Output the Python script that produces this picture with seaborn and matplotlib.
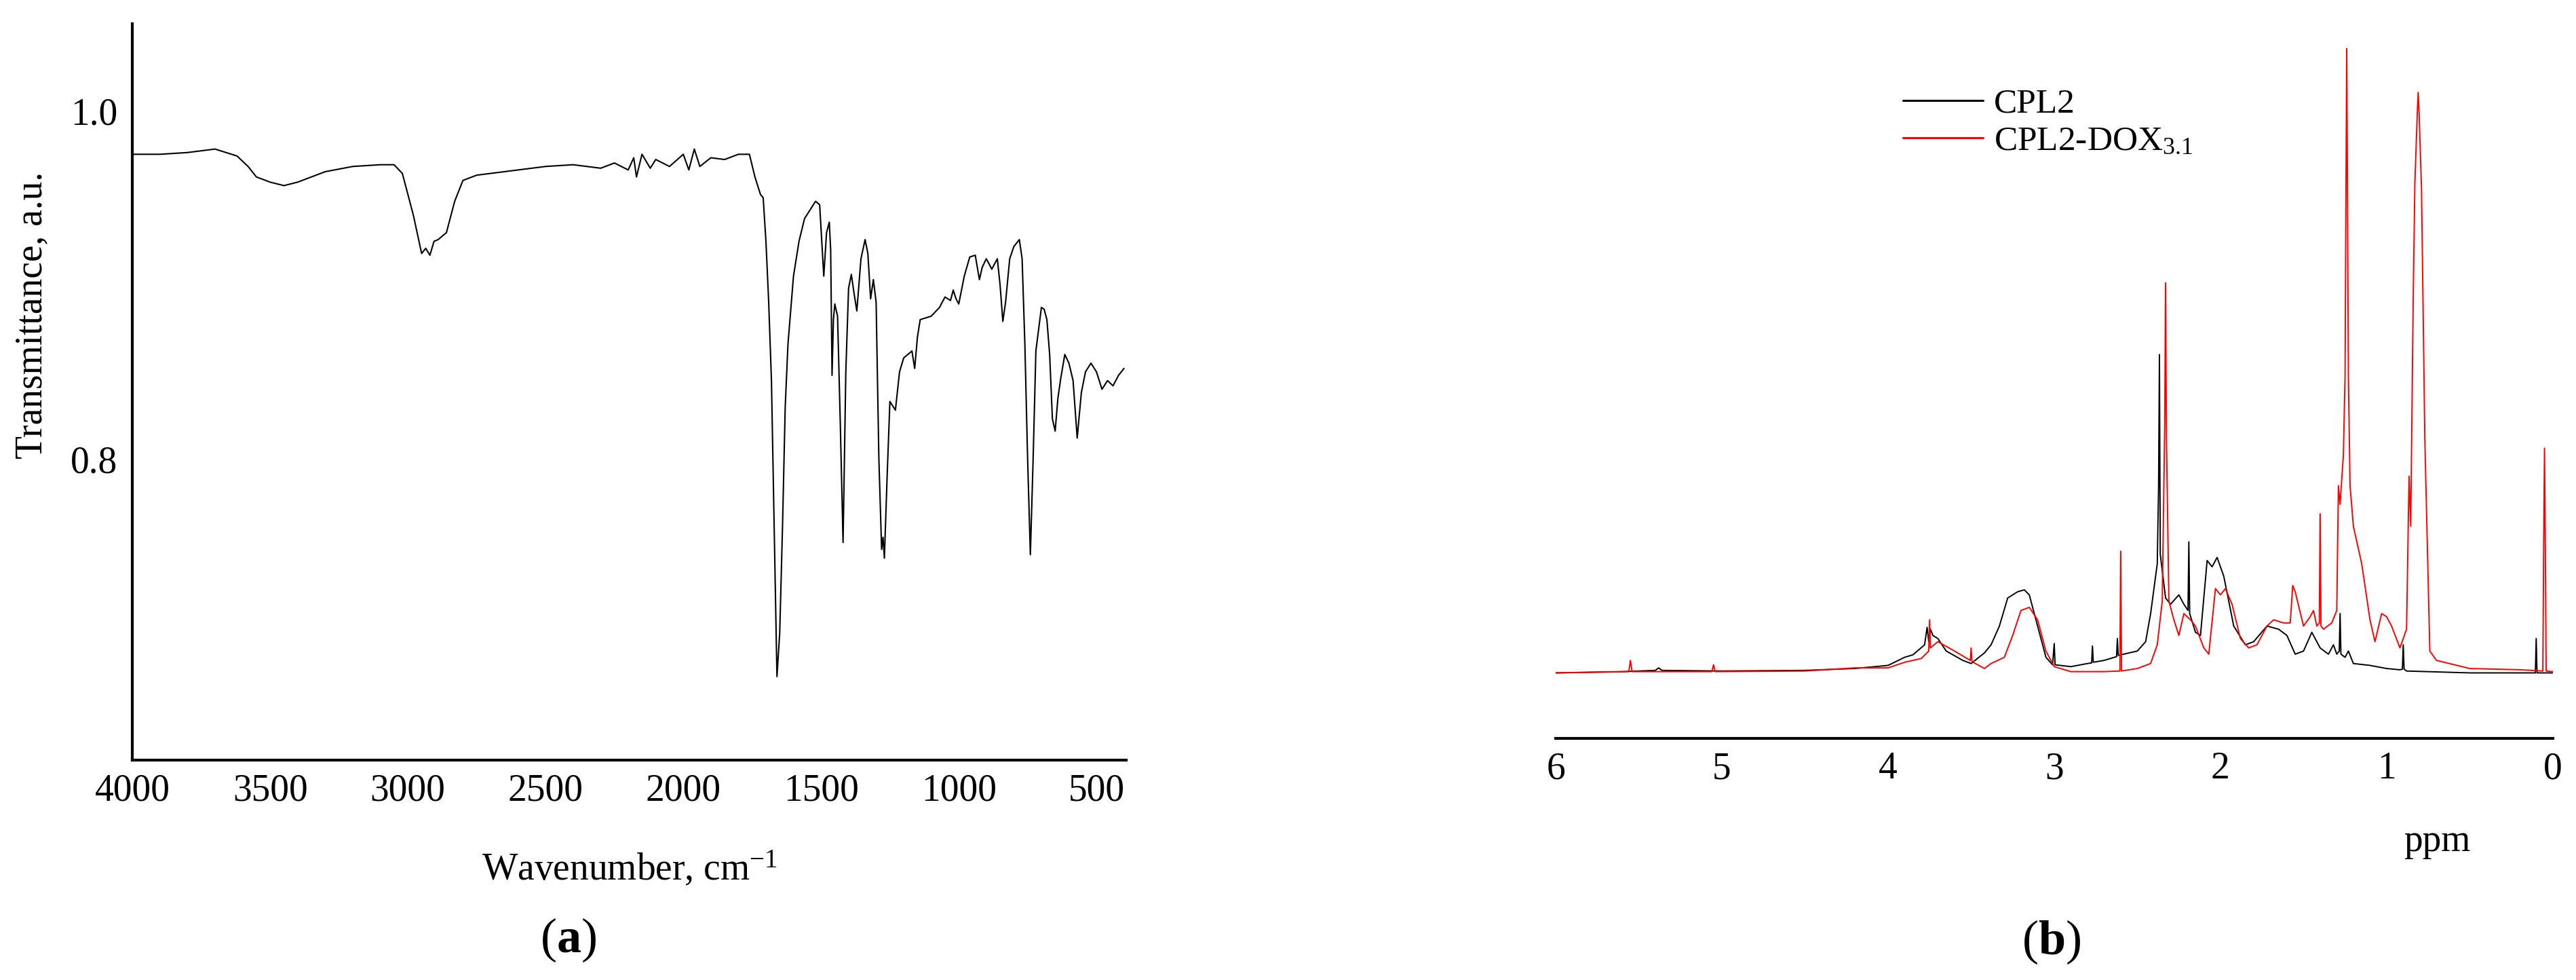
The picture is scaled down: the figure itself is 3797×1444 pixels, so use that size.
import numpy as np
import pandas as pd
import seaborn as sns
import matplotlib.pyplot as plt

# (a) FTIR spectrum
wavenumber = [4000, 3900, 3800, 3700, 3620, 3580, 3550, 3500, 3450, 3400,
              3300, 3200, 3100, 3050, 3020, 2980, 2950, 2935, 2920, 2905,
              2890, 2860, 2830, 2800, 2750, 2700, 2600, 2500, 2400, 2300,
              2250, 2200, 2180, 2170, 2150, 2120, 2100, 2050, 2000, 1980,
              1960, 1940, 1900, 1850, 1800, 1760, 1740, 1720, 1710, 1700,
              1690, 1680, 1670, 1660, 1650, 1640, 1630, 1620, 1600, 1580,
              1560, 1520, 1505, 1490, 1480, 1470, 1465, 1460, 1455, 1450,
              1440, 1430, 1420, 1410, 1400, 1390, 1380, 1370, 1355, 1340,
              1330, 1320, 1310, 1300, 1290, 1280, 1275, 1270, 1260, 1250,
              1230, 1215, 1200, 1170, 1160, 1150, 1140, 1100, 1070, 1050,
              1030, 1020, 1010, 1000, 980, 960, 940, 925, 915, 900,
              880, 860, 850, 840, 830, 815, 800, 780, 770, 760,
              750, 740, 730, 720, 700, 690, 680, 670, 660, 650,
              640, 630, 615, 600, 585, 570, 555, 540, 520, 500,
              480, 460, 440, 420, 400]
transmittance = [0.975, 0.975, 0.976, 0.978, 0.974, 0.968, 0.962, 0.959, 0.957, 0.959,
                 0.965, 0.968, 0.969, 0.969, 0.964, 0.940, 0.918, 0.921, 0.917, 0.925,
                 0.926, 0.930, 0.948, 0.960, 0.963, 0.964, 0.966, 0.968, 0.969, 0.967,
                 0.970, 0.966, 0.973, 0.962, 0.975, 0.967, 0.972, 0.968, 0.975, 0.966,
                 0.978, 0.968, 0.973, 0.972, 0.975, 0.975, 0.962, 0.952, 0.950, 0.925,
                 0.890, 0.845, 0.760, 0.675, 0.700, 0.760, 0.830, 0.866, 0.905, 0.925,
                 0.938, 0.948, 0.946, 0.905, 0.930, 0.936, 0.920, 0.848, 0.880, 0.889,
                 0.882, 0.820, 0.752, 0.850, 0.898, 0.906, 0.895, 0.885, 0.915, 0.926,
                 0.918, 0.892, 0.903, 0.890, 0.800, 0.748, 0.755, 0.743, 0.790, 0.833,
                 0.828, 0.850, 0.858, 0.862, 0.852, 0.870, 0.880, 0.882, 0.887, 0.893,
                 0.891, 0.897, 0.892, 0.889, 0.905, 0.916, 0.917, 0.903, 0.910, 0.915,
                 0.909, 0.915, 0.900, 0.879, 0.890, 0.915, 0.922, 0.926, 0.915, 0.866,
                 0.800, 0.745, 0.800, 0.862, 0.887, 0.886, 0.880, 0.860, 0.823, 0.816,
                 0.835, 0.846, 0.860, 0.855, 0.845, 0.812, 0.838, 0.850, 0.855, 0.850,
                 0.840, 0.845, 0.842, 0.848, 0.852]

# (b) 1H NMR spectra
ppm_cpl2 = [6.0, 5.6, 5.4, 5.38, 5.36, 5.0, 4.5, 4.2, 4.0, 3.9,
            3.85, 3.78, 3.765, 3.755, 3.745, 3.73, 3.7, 3.65, 3.55, 3.5,
            3.42, 3.38, 3.33, 3.28, 3.22, 3.18, 3.15, 3.1, 3.05, 3.01,
            3.0, 2.995, 2.9, 2.8, 2.775, 2.77, 2.765, 2.7, 2.625, 2.62,
            2.615, 2.5, 2.45, 2.42, 2.38, 2.372, 2.367, 2.362, 2.33, 2.3,
            2.25, 2.22, 2.195, 2.19, 2.185, 2.15, 2.12, 2.08, 2.05, 2.02,
            1.98, 1.92, 1.85, 1.8, 1.72, 1.65, 1.6, 1.55, 1.5, 1.45,
            1.4, 1.35, 1.32, 1.3, 1.285, 1.28, 1.275, 1.25, 1.23, 1.2,
            1.1, 1.0, 0.92, 0.905, 0.9, 0.895, 0.88, 0.5, 0.105, 0.1,
            0.095, 0.05, 0.0]
int_cpl2 = [0.0, 0.2, 0.4, 0.8, 0.4, 0.3, 0.4, 0.7, 1.2, 2.5,
            2.9, 4.5, 7.3, 5.0, 7.0, 6.0, 5.5, 3.5, 2.0, 1.5,
            3.2, 4.5, 7.5, 12.0, 13.0, 13.3, 12.5, 7.5, 2.5, 1.3,
            4.7, 1.3, 1.0, 1.5, 1.6, 4.3, 1.7, 2.0, 2.6, 5.5,
            2.8, 3.5, 5.0, 9.5, 17.5, 30.0, 51.0, 19.0, 12.0, 11.0,
            12.5, 11.0, 10.0, 21.0, 9.5, 6.5, 6.0, 18.0, 17.0, 18.5,
            15.5, 7.5, 4.5, 5.0, 7.5, 7.0, 6.0, 3.0, 3.5, 6.5,
            4.0, 3.0, 4.5, 3.0, 3.5, 9.5, 3.0, 2.5, 3.5, 1.5,
            1.2, 0.7, 0.5, 0.6, 4.5, 0.6, 0.3, 0.0, 0.0, 5.5,
            0.0, 0.0, 0.0]

ppm_dox = [6.0, 5.56, 5.55, 5.54, 5.3, 5.06, 5.05, 5.04, 4.5, 4.2,
           4.0, 3.9, 3.8, 3.755, 3.75, 3.745, 3.7, 3.6, 3.505, 3.5,
           3.495, 3.42, 3.38, 3.3, 3.25, 3.2, 3.15, 3.1, 3.05, 3.0,
           2.9, 2.7, 2.605, 2.6, 2.595, 2.5, 2.42, 2.38, 2.35, 2.335,
           2.33, 2.325, 2.31, 2.28, 2.25, 2.22, 2.18, 2.15, 2.1, 2.07,
           2.03, 2.0, 1.97, 1.93, 1.88, 1.83, 1.78, 1.72, 1.68, 1.62,
           1.58, 1.565, 1.55, 1.5, 1.46, 1.44, 1.42, 1.405, 1.4, 1.395,
           1.38, 1.33, 1.3, 1.29, 1.28, 1.26, 1.25, 1.243, 1.24, 1.237,
           1.23, 1.22, 1.2, 1.15, 1.1, 1.07, 1.03, 1.0, 0.97, 0.92,
           0.88, 0.865, 0.855, 0.84, 0.83, 0.815, 0.81, 0.805, 0.79, 0.77,
           0.74, 0.7, 0.5, 0.2, 0.06, 0.055, 0.05, 0.045, 0.04, 0.0]
int_dox = [0.0, 0.2, 2.0, 0.2, 0.2, 0.2, 1.3, 0.2, 0.3, 0.8,
           0.8, 1.7, 2.3, 3.5, 8.5, 4.0, 5.0, 3.5, 2.0, 4.0,
           1.8, 0.7, 1.5, 2.5, 6.0, 10.0, 10.5, 8.5, 3.5, 1.0,
           0.2, 0.2, 0.3, 19.5, 0.3, 0.7, 1.5, 4.5, 11.5, 40.0,
           62.5, 38.0, 11.5, 8.5, 6.0, 9.5, 8.5, 7.5, 4.0, 3.0,
           13.5, 12.5, 13.5, 11.0, 5.5, 4.0, 4.5, 7.5, 8.5, 8.0,
           8.0, 14.0, 13.0, 7.5, 9.0, 10.0, 7.5, 8.0, 25.5, 7.5,
           7.0, 8.0, 10.0, 30.0, 27.0, 35.0, 47.5, 85.0, 100.0, 85.0,
           47.5, 30.0, 23.5, 17.5, 8.5, 5.0, 9.5, 9.0, 7.5, 4.0,
           7.0, 31.5, 23.5, 60.0, 78.5, 90.0, 93.0, 90.0, 77.5, 37.5,
           3.5, 2.0, 0.7, 0.5, 0.3, 20.0, 36.0, 20.0, 0.3, 0.2]

sns.set_style("white")
plt.rcParams["font.family"] = ["Liberation Serif", "DejaVu Serif"]
plt.rcParams["mathtext.fontset"] = "custom"
plt.rcParams["mathtext.rm"] = "Liberation Serif"
plt.rcParams["mathtext.it"] = "Liberation Serif:italic"
plt.rcParams["mathtext.bf"] = "Liberation Serif:bold"
plt.rcParams["axes.edgecolor"] = "black"
plt.rcParams["text.color"] = "black"
plt.rcParams["axes.labelcolor"] = "black"
plt.rcParams["xtick.color"] = "black"
plt.rcParams["ytick.color"] = "black"

fig = plt.figure(figsize=(37.97, 14.44), dpi=100)
ax1 = fig.add_axes([0.0514, 0.2244, 0.3858, 0.7514])
ax2 = fig.add_axes([0.6039, 0.2465, 0.3871, 0.7293])

# ---- panel (a)
ir = pd.DataFrame({"wn": wavenumber, "T": transmittance})
sns.lineplot(data=ir, x="wn", y="T", ax=ax1, color="black", linewidth=1.5,
             estimator=None, sort=False)
ax1.set_xlim(4000, 392)
ax1.set_ylim(0.627, 1.05)
ax1.set_xticks([4000, 3500, 3000, 2500, 2000, 1500, 1000, 500])
ax1.set_yticks([0.8, 1.0])
ax1.set_yticklabels(["0.8", "1.0"])
for s in ["top", "right"]:
    ax1.spines[s].set_visible(False)
for s in ["left", "bottom"]:
    ax1.spines[s].set_linewidth(3)
ax1.tick_params(axis="both", direction="in", length=16, width=2.8, labelsize=40)
ax1.tick_params(axis="x", pad=14)
ax1.tick_params(axis="y", pad=16)
ax1.set_xlabel("Wavenumber, cm$^{-1}$", fontsize=40)
ax1.xaxis.set_label_coords(0.5, -0.122)
ax1.set_ylabel("Transmittance, a.u.", fontsize=40)
ax1.yaxis.set_label_coords(-0.083, 0.604)

# ---- panel (b)
nmr_a = pd.DataFrame({"ppm": ppm_cpl2, "I": int_cpl2})
nmr_b = pd.DataFrame({"ppm": ppm_dox, "I": int_dox})
sns.lineplot(data=nmr_a, x="ppm", y="I", ax=ax2, color="black", linewidth=1.4,
             estimator=None, sort=False, label="CPL2")
sns.lineplot(data=nmr_b, x="ppm", y="I", ax=ax2, color="red", linewidth=1.4,
             estimator=None, sort=False, label="CPL2-DOX$_{3.1}$")
ax2.set_xlim(6, 0)
ax2.set_ylim(-10.5, 104)
ax2.set_xticks([6, 5, 4, 3, 2, 1, 0])
ax2.set_yticks([])
for s in ["top", "right", "left"]:
    ax2.spines[s].set_visible(False)
ax2.spines["bottom"].set_linewidth(3)
ax2.tick_params(axis="x", direction="in", length=14, width=2.8, labelsize=40, pad=14)
ax2.set_xlabel("ppm", fontsize=40)
ax2.xaxis.set_label_coords(0.884, -0.12)
ax2.set_ylabel("")
leg = ax2.legend(loc="upper left", bbox_to_anchor=(2805 / 3797, 1 - 130 / 1444),
                 bbox_transform=fig.transFigure, frameon=False, fontsize=37,
                 handlelength=2.3, handletextpad=0.3, labelspacing=0.15,
                 borderpad=0, borderaxespad=0)
for line in leg.get_lines():
    line.set_linewidth(2.2)

fig.text(838 / 3797, 1 - 1385 / 1444, r"($\mathbf{a}$)", ha="center", va="center", fontsize=52)
fig.text(3024 / 3797, 1 - 1388 / 1444, r"($\mathbf{b}$)", ha="center", va="center", fontsize=52)

fig.savefig("out.png", dpi=100)
